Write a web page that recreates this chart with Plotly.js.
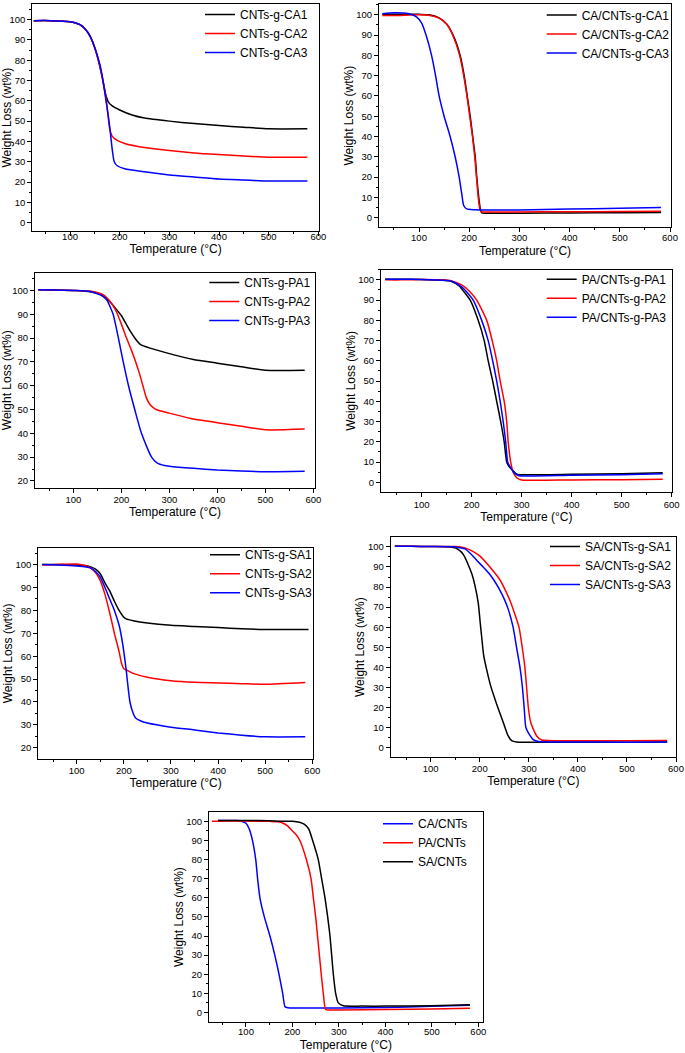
<!DOCTYPE html>
<html><head><meta charset="utf-8">
<script src="https://cdn.plot.ly/plotly-3.0.1.min.js"></script>
<style>html,body{margin:0;padding:0;background:#fff}#chart{width:685px;height:1053px}</style>
</head><body><div id="chart"></div>
<script>
// ---------- Panel 1: CNTs-g-CA ----------
const cntsCA1_T = [27, 60, 100, 110, 120, 130, 140, 150, 160, 167, 172, 177, 185, 200, 225, 250, 300, 350, 400, 450, 500, 578];
const cntsCA1_W = [99.5, 99.5, 99, 98.5, 97.5, 95.5, 92, 86, 77, 69, 63, 59.5, 57.5, 55.5, 53, 51.5, 50, 48.8, 47.8, 47, 46.2, 46.2];
const cntsCA2_T = [27, 60, 100, 110, 120, 130, 140, 150, 160, 167, 172, 176, 180, 185, 195, 210, 250, 300, 350, 400, 450, 500, 578];
const cntsCA2_W = [99.5, 99.5, 99, 98.5, 97.5, 95.5, 92, 86, 77, 69, 62, 54, 46, 42.5, 40.5, 39, 37, 35.5, 34.3, 33.5, 32.8, 32.2, 32.2];
const cntsCA3_T = [27, 60, 100, 110, 120, 130, 140, 150, 160, 165, 170, 175, 180, 185, 189, 195, 210, 250, 300, 350, 400, 450, 500, 578];
const cntsCA3_W = [99.5, 99.5, 99, 98.5, 97.5, 95.5, 92, 86, 78, 72, 64, 56, 47, 36, 30, 28, 26.5, 25, 23.5, 22.5, 21.5, 21, 20.5, 20.5];

// ---------- Panel 2: CA/CNTs-g-CA ----------
const caCA1_T = [27, 60, 100, 120, 140, 155, 168, 182, 190, 196, 202, 207, 212, 215, 219, 222, 225, 240, 300, 400, 500, 582];
const caCA1_W = [100.3, 100.3, 100.2, 100, 98.5, 95.5, 90, 80, 70, 60, 50, 40, 30, 20, 10, 4.5, 2.3, 2.2, 2.2, 2.3, 2.4, 2.5];
const caCA2_T = [27, 50, 100, 120, 140, 155, 167, 181, 189, 195.5, 201, 206.5, 211, 214.5, 218, 221, 224, 240, 300, 400, 500, 582];
const caCA2_W = [99.6, 99.6, 100, 99.8, 98.3, 95.3, 90, 80, 70, 60, 50, 40, 30, 20, 10, 4.5, 3, 2.8, 2.8, 2.9, 3.0, 3.2];
const caCA3_T = [27, 50, 80, 95, 105, 114, 125, 133, 140, 150, 162, 172, 180, 185, 189, 195, 210, 300, 400, 500, 582];
const caCA3_W = [100.5, 101, 100.5, 99, 96, 90, 80, 70, 60, 50, 40, 30, 20, 12, 6, 4.3, 3.9, 3.8, 4.2, 4.6, 5];

// ---------- Panel 3: CNTs-g-PA ----------
const cntsPA1_T = [27, 60, 100, 120, 140, 150, 160, 170, 180, 190, 200, 210, 220, 230, 240, 260, 300, 350, 400, 450, 500, 582];
const cntsPA1_W = [100.3, 100.2, 100, 99.8, 99.3, 98.8, 98, 96.5, 94.5, 92, 89.5, 86, 82.5, 79.5, 77.3, 75.8, 73.5, 71, 69.5, 68, 66.5, 66.5];
const cntsPA2_T = [27, 60, 100, 120, 140, 150, 160, 170, 180, 190, 200, 210, 220, 230, 238, 245, 252, 260, 270, 280, 300, 350, 400, 450, 500, 582];
const cntsPA2_W = [100.3, 100.2, 100, 99.9, 99.6, 99.2, 98.5, 97, 94.5, 91, 86, 80.5, 75.5, 70, 65, 60, 55, 52, 50.3, 49.5, 48.5, 46, 44.5, 43, 41.5, 41.8];
const cntsPA3_T = [27, 60, 100, 120, 140, 150, 160, 170, 177, 183, 194, 204, 215, 228, 242, 263, 275, 290, 300, 350, 400, 450, 500, 582];
const cntsPA3_W = [100.3, 100.2, 100, 99.9, 99.4, 98.6, 97.8, 96, 93, 90, 80, 70, 60, 50, 40, 30, 27.5, 26.5, 26.2, 25.3, 24.6, 24.2, 23.9, 24.1];

// ---------- Panel 4: PA/CNTs-g-PA ----------
const paPA1_T = [27, 60, 100, 140, 160, 175, 185, 197, 213, 225, 233, 242, 250, 258, 265, 270, 274, 282, 290, 300, 400, 500, 582];
const paPA1_W = [100.3, 100.3, 100.2, 99.8, 99.2, 97, 94, 90, 80, 70, 60, 50, 40, 30, 20, 10, 8, 6, 4, 3.8, 4, 4.3, 4.8];
const paPA2_T = [27, 60, 100, 140, 160, 180, 195, 210, 230, 241, 250, 257, 265, 270, 273, 278, 283, 290, 300, 400, 500, 582];
const paPA2_W = [100, 100, 100.2, 100, 99.5, 97.5, 94.5, 90, 80, 70, 60, 50, 40, 30, 20, 10, 5, 2.3, 1.2, 1.2, 1.3, 1.5];
const paPA3_T = [27, 60, 100, 140, 160, 180, 190, 203, 220, 233, 242, 250, 257, 263, 268, 272, 276, 284, 292, 300, 400, 500, 582];
const paPA3_W = [100.3, 100.3, 100.2, 99.8, 99.3, 96.5, 94, 90, 80, 70, 60, 50, 40, 30, 20, 10, 8, 5, 3.5, 3.2, 3.5, 3.8, 4.2];

// ---------- Panel 5: CNTs-g-SA ----------
const cntsSA1_T = [27, 60, 100, 120, 130, 140, 150, 160, 170, 180, 190, 200, 205, 220, 250, 300, 350, 400, 450, 500, 592];
const cntsSA1_W = [100, 100, 99.8, 99.5, 99, 98, 96, 92, 88.5, 84, 80, 77, 76.3, 75.5, 74.5, 73.5, 73, 72.5, 72, 71.7, 71.7];
const cntsSA2_T = [27, 60, 100, 120, 130, 140, 150, 160, 170, 180, 190, 195, 200, 210, 220, 250, 300, 350, 400, 450, 500, 585];
const cntsSA2_W = [99.8, 100.1, 100.3, 99.5, 98.5, 96.5, 93, 87, 79, 70, 62, 57, 54.5, 53.5, 52.5, 50.8, 49.3, 48.6, 48.3, 48, 47.7, 48.5];
const cntsSA3_T = [27, 60, 100, 120, 130, 140, 150, 160, 170, 180, 190, 195, 200, 205, 213, 220, 225, 235, 250, 300, 350, 400, 450, 500, 585];
const cntsSA3_W = [100, 99.8, 99.4, 99, 98.5, 97, 94.5, 90, 85, 80, 73.5, 68.5, 62, 54, 40, 35, 33, 31.8, 30.8, 29, 27.8, 26.5, 25.5, 24.8, 24.8];

// ---------- Panel 6: SA/CNTs-g-SA ----------
const saSA1_T = [27, 60, 100, 140, 150, 160, 167, 175, 184, 190, 197, 201, 204, 208, 214, 222, 234, 248, 258, 265, 275, 300, 400, 500, 582];
const saSA1_W = [100.3, 100.3, 100.2, 100, 99.5, 98, 96, 92, 86.5, 81, 72, 62, 55, 46, 39, 31, 22, 12.5, 5.8, 3.5, 2.8, 2.7, 2.7, 2.7, 2.8];
const saSA2_T = [27, 60, 100, 150, 170, 184, 200, 224, 240, 253, 262, 268, 280, 286.5, 292, 295.5, 299, 304, 316, 326, 400, 500, 582];
const saSA2_W = [100.3, 100.3, 100.2, 100.2, 99.5, 98, 95.5, 89, 84, 78, 73, 69, 60, 50, 40, 30, 20, 12.5, 5.8, 3.8, 3.4, 3.4, 3.5];
const saSA3_T = [27, 60, 100, 150, 170, 184, 195, 207, 220, 230, 241, 250, 258, 268, 275, 282, 287, 290.5, 294, 300, 309, 320, 400, 500, 582];
const saSA3_W = [100.3, 100.3, 100.2, 100, 99, 96, 93, 90, 86.5, 83, 78.5, 74, 69, 60, 50, 40, 30, 20, 10, 7, 4, 3, 2.8, 2.7, 2.8];

// ---------- Panel 7: acid/CNTs ----------
const caCNT_T = [40, 60, 80, 90, 100, 107, 114, 121, 125, 130, 139.5, 151.6, 162, 171, 179, 184, 190, 250, 300, 400, 500, 582];
const caCNT_W = [100.5, 100.5, 100.4, 100, 99, 96, 90, 80, 70, 60, 50, 40, 30, 20, 10, 3, 2.5, 2.3, 2.3, 2.6, 3.2, 3.8];
const paCNT_T = [27, 60, 100, 150, 170, 180, 190, 200, 208, 216, 230, 240, 245, 250, 254, 258, 262, 266.4, 271.5, 280, 300, 400, 500, 582];
const paCNT_W = [100, 100.2, 100.2, 100, 99.8, 99, 97.5, 95, 93, 90, 80, 70, 60, 50, 40, 30, 20, 10, 1.5, 1.3, 1.3, 1.5, 1.8, 2.2];
const saCNT_T = [40, 100, 150, 200, 215, 225, 235, 243.5, 255.6, 262.8, 270, 275.8, 280.8, 284.4, 288, 293, 298.7, 309.5, 350, 400, 500, 582];
const saCNT_W = [100.5, 100.5, 100.3, 100, 99.5, 98.5, 96, 90, 80, 70, 60, 50, 40, 30, 20, 10, 5, 3.5, 3.3, 3.3, 3.5, 4];

// ---------- labels ----------
const xTitle = 'Temperature (°C)';
const yTitle = 'Weight Loss (wt%)';
const BLACK = '#000000', RED = '#ff0000', BLUE = '#0000ff';

const W = 685, H = 1053;
const FONT = 'Liberation Sans, Arial, sans-serif';

// panel frames in pixels [left, right, top, bottom], axis ranges, legend anchor, x label offsets
const panels = [
  {px:[32.3, 319, 1, 229],     xr:[24, 601.4],  yr:[-4.3, 107.7], y0:0,  leg:[200, -3.5],  tls:-8, tso:1},
  {px:[379, 671, 1, 225],      xr:[20.3, 602],  yr:[-4.8, 105.3], y0:0,  leg:[541.7, -2.5], tls:-3, tso:4},
  {px:[35, 315, 270.7, 486],   xr:[20.2, 603.5],yr:[17.2, 107.4], y0:20, leg:[204.3, 265.8], tls:-1, tso:0},
  {px:[381, 671.7, 267.3, 490.7], xr:[18.6, 600], yr:[-4.9, 105.1], y0:0, leg:[541.7, 262.5], tls:-1, tso:3},
  {px:[38.3, 313, 546.7, 757.7], xr:[18.5, 601.5], yr:[15.3, 107.2], y0:20, leg:[205, 538.8], tls:-1, tso:1},
  {px:[390.7, 676, 536, 756],  xr:[18.5, 600],  yr:[-4.6, 104.7], y0:0,  leg:[545, 530.5], tls:-1, tso:3},
  {px:[209, 482.7, 811.7, 1021.7], xr:[20.4, 609.5], yr:[-4.9, 104.7], y0:0, leg:[378, 808.5], tls:-3, tso:4}
];

const series = [
  [[cntsCA1_T, cntsCA1_W, 'CNTs-g-CA1', BLACK], [cntsCA2_T, cntsCA2_W, 'CNTs-g-CA2', RED], [cntsCA3_T, cntsCA3_W, 'CNTs-g-CA3', BLUE]],
  [[caCA1_T, caCA1_W, 'CA/CNTs-g-CA1', BLACK], [caCA2_T, caCA2_W, 'CA/CNTs-g-CA2', RED], [caCA3_T, caCA3_W, 'CA/CNTs-g-CA3', BLUE]],
  [[cntsPA1_T, cntsPA1_W, 'CNTs-g-PA1', BLACK], [cntsPA2_T, cntsPA2_W, 'CNTs-g-PA2', RED], [cntsPA3_T, cntsPA3_W, 'CNTs-g-PA3', BLUE]],
  [[paPA1_T, paPA1_W, 'PA/CNTs-g-PA1', BLACK], [paPA2_T, paPA2_W, 'PA/CNTs-g-PA2', RED], [paPA3_T, paPA3_W, 'PA/CNTs-g-PA3', BLUE]],
  [[cntsSA1_T, cntsSA1_W, 'CNTs-g-SA1', BLACK], [cntsSA2_T, cntsSA2_W, 'CNTs-g-SA2', RED], [cntsSA3_T, cntsSA3_W, 'CNTs-g-SA3', BLUE]],
  [[saSA1_T, saSA1_W, 'SA/CNTs-g-SA1', BLACK], [saSA2_T, saSA2_W, 'SA/CNTs-g-SA2', RED], [saSA3_T, saSA3_W, 'SA/CNTs-g-SA3', BLUE]],
  [[caCNT_T, caCNT_W, 'CA/CNTs', BLUE], [paCNT_T, paCNT_W, 'PA/CNTs', RED], [saCNT_T, saCNT_W, 'SA/CNTs', BLACK]]
];

const data = [];
const layout = {
  width: W, height: H,
  margin: {l:0, r:0, t:0, b:0},
  paper_bgcolor: '#fff', plot_bgcolor: '#fff',
  font: {family: FONT, color: '#000'},
  showlegend: true
};

panels.forEach((p, i) => {
  const n = i + 1;
  const sx = n === 1 ? '' : String(n);
  const xa = 'xaxis' + sx, ya = 'yaxis' + sx;
  const legId = n === 1 ? 'legend' : 'legend' + n;
  const common = {
    showline: true, linecolor: '#000', linewidth: 1, mirror: true,
    ticks: 'outside', ticklen: 4, tickwidth: 1, tickcolor: '#000',
    showgrid: false, zeroline: false, fixedrange: true,
    tickfont: {family: FONT, size: 9.5, color: '#000'}
  };
  layout[xa] = Object.assign({}, common, {
    domain: [p.px[0] / W, p.px[1] / W],
    range: p.xr, anchor: 'y' + sx,
    tick0: 0, dtick: 100, ticklabelstandoff: p.tls,
    minor: {ticks: 'outside', tick0: 0, dtick: 50, ticklen: 2, tickcolor: '#000', showgrid: false},
    title: {text: xTitle, font: {family: FONT, size: 12, color: '#000'}, standoff: p.tso}
  });
  layout[ya] = Object.assign({}, common, {
    domain: [1 - p.px[3] / H, 1 - p.px[2] / H],
    range: p.yr, anchor: 'x' + sx,
    tick0: p.y0, dtick: 10,
    minor: {ticks: 'outside', tick0: 0, dtick: 5, ticklen: 2, tickcolor: '#000', showgrid: false},
    title: {text: yTitle, font: {family: FONT, size: 12, color: '#000'}, standoff: 0}
  });
  layout[legId] = {
    x: p.leg[0] / W, y: 1 - p.leg[1] / H, xanchor: 'left', yanchor: 'top',
    bgcolor: 'rgba(0,0,0,0)', borderwidth: 0,
    font: {family: FONT, size: 12, color: '#000'}
  };
  series[i].forEach(s => {
    data.push({
      type: 'scatter', mode: 'lines',
      x: s[0], y: s[1], name: s[2],
      line: {color: s[3], width: 1.5, shape: 'spline', smoothing: 0.6},
      xaxis: 'x' + sx, yaxis: 'y' + sx, legend: legId,
      hoverinfo: 'skip'
    });
  });
});

Plotly.newPlot('chart', data, layout, {staticPlot: true, displayModeBar: false});
</script>
</body></html>
